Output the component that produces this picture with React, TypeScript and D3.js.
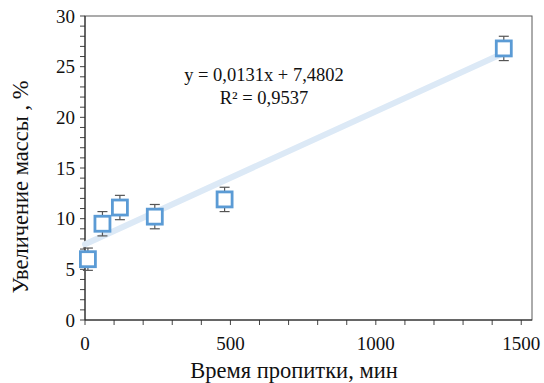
import * as d3 from "d3";

const times = [10, 60, 120, 240, 480, 1440];
const massGain = [6.0, 9.5, 11.1, 10.2, 11.9, 26.8];
const errors = [1.1, 1.2, 1.2, 1.2, 1.2, 1.2];
const xTicks = [0, 500, 1000, 1500];
const yTicks = [0, 5, 10, 15, 20, 25, 30];
const slope = 0.0131;
const intercept = 7.4802;
const equationLines = ["y = 0,0131x + 7,4802", "R² = 0,9537"];

const width = 544;
const height = 383;
const margin = { top: 16, right: 12, bottom: 63, left: 85 };
const fontStyle = { fontFamily: "'Liberation Serif', Tinos, 'DejaVu Serif', serif" };

export default function App() {
  const x = d3.scaleLinear().domain([0, 1537]).range([margin.left, width - margin.right]);
  const y = d3.scaleLinear().domain([0, 30]).range([height - margin.bottom, margin.top]);
  const minorX = d3.range(0, 1501, 100);
  const minorY = d3.range(0, 31, 1);
  const trend = d3.line<number>().x((t) => x(t)).y((t) => y(slope * t + intercept));
  const sq = 15;

  return (
    <svg width={width} height={height} style={{ position: "absolute", left: 0, top: 0, background: "#fff" }}>
      <rect x={margin.left} y={margin.top} width={width - margin.right - margin.left} height={height - margin.bottom - margin.top} fill="none" stroke="#595959" strokeWidth={1} />
      {minorY.map((v) => (
        <line key={`my${v}`} x1={margin.left - 5} x2={margin.left} y1={y(v)} y2={y(v)} stroke="#444" />
      ))}
      {minorX.map((v) => (
        <line key={`mx${v}`} x1={x(v)} x2={x(v)} y1={y(0)} y2={y(0) + 5} stroke="#444" />
      ))}
      <line x1={margin.left} x2={margin.left} y1={y(30)} y2={y(0)} stroke="#222" />
      <line x1={margin.left} x2={width - margin.right} y1={y(0)} y2={y(0)} stroke="#222" />
      <g style={fontStyle} fill="#111">
        {yTicks.map((v) => (
          <text key={`yt${v}`} x={margin.left - 10} y={y(v) + 6.5} textAnchor="end" fontSize={19}>{v}</text>
        ))}
        {xTicks.map((v) => (
          <text key={`xt${v}`} x={x(v)} y={y(0) + 30} textAnchor="middle" fontSize={19}>{v}</text>
        ))}
      </g>
      <path d={trend([0, 1440]) ?? ""} fill="none" stroke="#dce9f6" strokeWidth={6} strokeLinecap="round" />
      {times.map((t, i) => (
        <g key={`e${t}`} stroke="#555" strokeWidth={1.2}>
          <line x1={x(t)} x2={x(t)} y1={y(massGain[i] + errors[i])} y2={y(massGain[i] - errors[i])} />
          <line x1={x(t) - 5} x2={x(t) + 5} y1={y(massGain[i] + errors[i])} y2={y(massGain[i] + errors[i])} />
          <line x1={x(t) - 5} x2={x(t) + 5} y1={y(massGain[i] - errors[i])} y2={y(massGain[i] - errors[i])} />
        </g>
      ))}
      {times.map((t, i) => (
        <rect key={`p${t}`} x={x(t) - sq / 2} y={y(massGain[i]) - sq / 2} width={sq} height={sq} fill="#fff" stroke="#5b9bd5" strokeWidth={2.8} />
      ))}
      <g style={fontStyle} fill="#111">
        {equationLines.map((s, i) => (
          <text key={s} x={264} y={81 + i * 23} textAnchor="middle" fontSize={18.5}>{s}</text>
        ))}
        <text x={294} y={378} textAnchor="middle" fontSize={22.5}>Время пропитки, мин</text>
        <text transform={`translate(28, 187) rotate(-90)`} textAnchor="middle" fontSize={22.5}>Увеличение массы , %</text>
      </g>
    </svg>
  );
}
